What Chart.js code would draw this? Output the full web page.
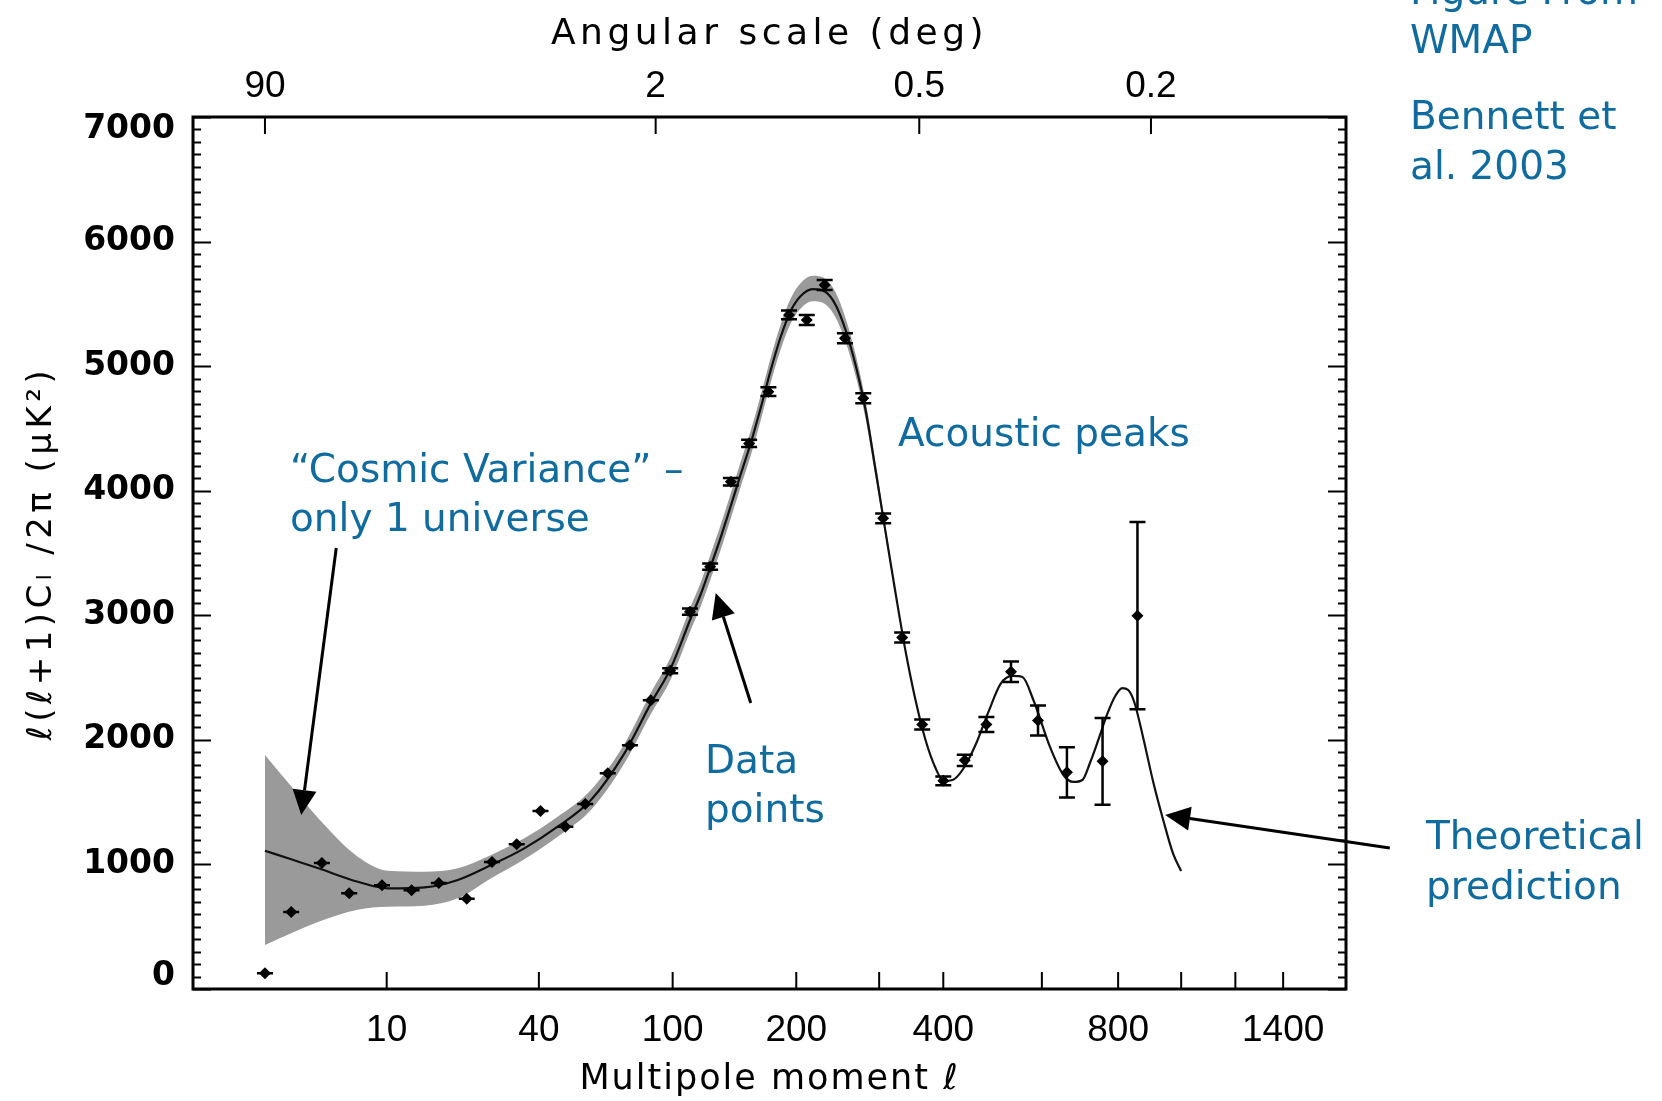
<!DOCTYPE html>
<html><head><meta charset="utf-8">
<script src="https://cdn.jsdelivr.net/npm/chart.js@4/dist/chart.umd.min.js"></script>
<style>html,body{margin:0;padding:0;background:#fff;}canvas{display:block;}</style>
</head><body>
<canvas id="c" width="1662" height="1101"></canvas>
<script>
// ---------- data ----------
const dataL = [2, 3, 4.6, 6.5, 9.5, 13, 17, 22, 27.4, 33.6, 40.5, 48.8, 56.3, 65.8, 76.3, 87.3, 98.5, 111, 125, 140.7, 155.7, 172.8, 192.6, 211, 230.9, 255, 278.4, 305.6, 333.4, 364.7, 400, 438.5, 480, 530.8, 591, 661, 755.6, 857.8];
const dataV = [126, 618, 1011, 768, 832, 792, 851, 725, 1020, 1161, 1429, 1303, 1485, 1731, 1956, 2317, 2555, 3029, 3390, 4072, 4380, 4795, 5411, 5370, 5651, 5224, 4742, 3778, 2822, 2124, 1671, 1836, 2124, 2547, 2155, 1739, 1828, 2997];
const dataErr = [0, 0, 0, 0, 0, 0, 0, 0, 0, 0, 0, 0, 0, 0, 0, 0, 20, 25, 25, 30, 30, 35, 35, 40, 40, 40, 40, 40, 40, 40, 35, 45, 60, 83, 120, 202, 348, 752];

const theoryL = [2, 3, 4.4, 7.2, 10.1, 14.8, 20.3, 27.2, 35.7, 46.1, 58.6, 73.5, 87.3, 98.9, 111.6, 118.4, 125.5, 132.9, 140.6, 148.7, 157.1, 165.8, 175, 184.4, 194.3, 204.6, 217.4, 232, 243.7, 255.8, 268.4, 281.5, 295, 309, 323.5, 338.5, 354, 370.1, 386.7, 400.3, 416.2, 434.2, 458.7, 484.1, 508.5, 533.8, 555.6, 580.3, 620.2, 652, 677.3, 700.7, 722, 743.8, 768.9, 791.7, 812.1, 829.9, 848, 875.7, 907.2, 939.6, 972.8, 1000];
const theoryV = [1110, 1041, 969, 861, 808, 816, 875, 995, 1129, 1303, 1517, 1890, 2293, 2577, 2978, 3171, 3396, 3628, 3877, 4134, 4383, 4664, 4969, 5234, 5443, 5563, 5619, 5595, 5491, 5290, 5009, 4648, 4166, 3669, 3179, 2713, 2320, 1999, 1774, 1670, 1678, 1758, 1959, 2224, 2448, 2513, 2505, 2320, 1935, 1718, 1662, 1678, 1822, 1999, 2208, 2352, 2416, 2400, 2304, 2015, 1662, 1357, 1084, 947];

const bandL = [2, 3, 4.4, 7.2, 10.1, 14.8, 20.3, 27.2, 35.7, 46.1, 58.6, 73.5, 87.3, 98.9, 111.6, 118.4, 125.5, 132.9, 140.6, 148.7, 157.1, 165.8, 175, 184.4, 194.3, 204.6, 217.4, 232, 243.7, 255.8, 268.4, 281.5, 295, 309, 323.5, 338.5];
const bandUpper = [1878, 1627, 1368, 1062, 950, 942, 969, 1076, 1210, 1383, 1598, 1965, 2378, 2667, 3073, 3266, 3496, 3728, 3977, 4234, 4483, 4764, 5069, 5334, 5543, 5668, 5725, 5700, 5591, 5385, 5095, 4720, 4226, 3709, 3199, 2713];
const bandLower = [353, 447, 540, 637, 661, 669, 728, 889, 1041, 1223, 1437, 1810, 2208, 2487, 2883, 3076, 3296, 3528, 3777, 4034, 4283, 4564, 4869, 5134, 5343, 5463, 5520, 5495, 5391, 5195, 4923, 4576, 4106, 3629, 3159, 2713];

// ---------- axes / ticks ----------
const xMinL = 0.5, xMaxL = 1700;
const yMin = 0, yMax = 7000, yMinorStep = 100, yMajorStep = 1000;
const yTickValues = [0, 1000, 2000, 3000, 4000, 5000, 6000, 7000];
const yTickLabels = ['0', '1000', '2000', '3000', '4000', '5000', '6000', '7000'];
const xTickL = [10, 40, 100, 200, 300, 400, 600, 800, 1000, 1200, 1400];
const xTickLabels = ['10', '40', '100', '200', '', '400', '', '800', '', '', '1400'];
const topTickDeg = [90, 2, 0.5, 0.2];
const topTickLabels = ['90', '2', '0.5', '0.2'];

// ---------- annotations ----------
const noteColor = '#106c9f';
const notes = [
  {text: 'Figure From', x: 1410, y: 4},
  {text: 'WMAP', x: 1410, y: 53},
  {text: 'Bennett et', x: 1410, y: 129},
  {text: 'al. 2003', x: 1410, y: 179},
  {text: '\u201CCosmic Variance\u201D \u2013', x: 290, y: 482},
  {text: 'only 1 universe', x: 290, y: 531},
  {text: 'Acoustic peaks', x: 898, y: 446},
  {text: 'Data', x: 705, y: 773},
  {text: 'points', x: 705, y: 822},
  {text: 'Theoretical', x: 1426, y: 849},
  {text: 'prediction', x: 1426, y: 899}
];
const arrowsData = [
  {fromL: 5.54, fromV: 3540, toL: 3.47, toV: 1397},
  {fromL: 157.1, fromV: 2296, toL: 129.1, toV: 3179},
  {fromL: 1936, fromV: 1132, toL: 946, toV: 1397}
];

// ---------- custom l^(1/4) scale ----------
class QuarterPowerScale extends Chart.LinearScale {
  static id = 'power4';
  static defaults = Chart.LinearScale.defaults;
  _t(v) { return Math.pow(v, 0.25); }
  getPixelForValue(value) {
    if (value === null || value === undefined || isNaN(value)) return NaN;
    const a = this._t(this.min), b = this._t(this.max);
    return this.getPixelForDecimal((this._t(value) - a) / (b - a));
  }
  getValueForPixel(pixel) {
    const a = this._t(this.min), b = this._t(this.max);
    return Math.pow(a + this.getDecimalForPixel(pixel) * (b - a), 4);
  }
}
Chart.register(QuarterPowerScale);

const fontX = '"Liberation Sans", Arial, sans-serif';
const fontD = '"DejaVu Sans", sans-serif';

const pts = (xs, ys) => xs.map((l, i) => ({x: l, y: ys[i]}));

function arrow(ctx, x1, y1, x2, y2, head, width) {
  const ang = Math.atan2(y2 - y1, x2 - x1);
  const bx = x2 - head * Math.cos(ang), by = y2 - head * Math.sin(ang);
  ctx.beginPath(); ctx.moveTo(x1, y1); ctx.lineTo(bx, by); ctx.stroke();
  ctx.beginPath(); ctx.moveTo(x2, y2);
  ctx.lineTo(bx + width / 2 * Math.sin(ang), by - width / 2 * Math.cos(ang));
  ctx.lineTo(bx - width / 2 * Math.sin(ang), by + width / 2 * Math.cos(ang));
  ctx.closePath(); ctx.fill();
}

function patchTitle(scale, spacing) {
  if (!scale || scale._spPatched) return;
  const orig = scale.drawTitle;
  scale.drawTitle = function () {
    const c = this.ctx; c.save(); c.letterSpacing = spacing; orig.call(this); c.restore();
  };
  scale._spPatched = true;
}

const cmbPlugin = {
  id: 'cmb',
  afterLayout(chart) {
    patchTitle(chart.scales.y, '4.5px');
    patchTitle(chart.scales.xTop, '4.5px');
    patchTitle(chart.scales.x, '2px');
  },
  afterDatasetsDraw(chart) {
    const {ctx, chartArea: a, scales: {x, y, xTop}} = chart;
    ctx.save();
    // error bars
    ctx.strokeStyle = '#000'; ctx.lineWidth = 2.5;
    dataL.forEach((l, i) => {
      const px = x.getPixelForValue(l);
      const yt = y.getPixelForValue(dataV[i] + dataErr[i]);
      const yb = y.getPixelForValue(dataV[i] - dataErr[i]);
      ctx.beginPath();
      ctx.moveTo(px, yt); ctx.lineTo(px, yb);
      ctx.moveTo(px - 8, yt); ctx.lineTo(px + 8, yt);
      ctx.moveTo(px - 8, yb); ctx.lineTo(px + 8, yb);
      ctx.stroke();
    });
    // inward tick marks
    ctx.lineWidth = 2;
    ctx.beginPath();
    for (let v = yMin; v <= yMax; v += yMinorStep) {
      const py = Math.round(y.getPixelForValue(v)) + 0.5;
      const len = (v % yMajorStep === 0) ? 18 : 8;
      ctx.moveTo(a.left, py); ctx.lineTo(a.left + len, py);
      ctx.moveTo(a.right, py); ctx.lineTo(a.right - len, py);
    }
    xTickL.forEach(l => {
      const px = x.getPixelForValue(l);
      ctx.moveTo(px, a.bottom); ctx.lineTo(px, a.bottom - 17);
    });
    topTickDeg.forEach(d => {
      const px = xTop.getPixelForValue(180 / d);
      ctx.moveTo(px, a.top); ctx.lineTo(px, a.top + 17);
    });
    ctx.stroke();
    // frame
    ctx.lineWidth = 3;
    ctx.strokeRect(a.left, a.top, a.right - a.left, a.bottom - a.top);
    ctx.restore();
  },
  afterDraw(chart) {
    const {ctx, scales: {x, y}} = chart;
    ctx.save();
    ctx.fillStyle = noteColor;
    ctx.font = '39px ' + fontD;
    ctx.textAlign = 'left'; ctx.textBaseline = 'alphabetic';
    notes.forEach(n => ctx.fillText(n.text, n.x, n.y));
    ctx.strokeStyle = '#000'; ctx.fillStyle = '#000'; ctx.lineWidth = 3;
    arrowsData.forEach(ar => {
      arrow(ctx, x.getPixelForValue(ar.fromL), y.getPixelForValue(ar.fromV),
        x.getPixelForValue(ar.toL), y.getPixelForValue(ar.toV), 25, 24);
    });
    ctx.restore();
  }
};

Chart.defaults.color = '#000';

new Chart(document.getElementById('c'), {
  type: 'line',
  data: {
    datasets: [
      {
        label: 'WMAP data', data: pts(dataL, dataV), showLine: false,
        pointStyle: 'rectRot', pointRadius: 6, pointBackgroundColor: '#000',
        pointBorderColor: '#000', pointBorderWidth: 0, order: 0,
        xAxisID: 'x', yAxisID: 'y'
      },
      {
        label: 'Theory', data: pts(theoryL, theoryV), borderColor: '#111',
        borderWidth: 2.2, pointRadius: 0, cubicInterpolationMode: 'monotone',
        fill: false, order: 1, xAxisID: 'x', yAxisID: 'y'
      },
      {
        label: 'Cosmic variance upper', data: pts(bandL, bandUpper), borderWidth: 0,
        borderColor: 'rgba(0,0,0,0)', pointRadius: 0, cubicInterpolationMode: 'monotone',
        fill: false, order: 2, xAxisID: 'x', yAxisID: 'y'
      },
      {
        label: 'Cosmic variance lower', data: pts(bandL, bandLower), borderWidth: 0,
        borderColor: 'rgba(0,0,0,0)', pointRadius: 0, cubicInterpolationMode: 'monotone',
        fill: '-1', backgroundColor: '#9a9a9a', order: 2, xAxisID: 'x', yAxisID: 'y'
      }
    ]
  },
  options: {
    responsive: false,
    animation: false,
    devicePixelRatio: 1,
    layout: {padding: {left: 0, right: 316, top: 0, bottom: 0}},
    plugins: {legend: {display: false}, tooltip: {enabled: false}},
    scales: {
      x: {
        type: 'power4', position: 'bottom', min: xMinL, max: xMaxL, bounds: 'data',
        afterBuildTicks: s => { s.ticks = xTickL.map(v => ({value: v})); },
        afterFit: s => { s.height = 112; },
        grid: {display: false, drawTicks: false}, border: {display: false},
        ticks: {
          autoSkip: false, maxRotation: 0, padding: 20,
          callback: (v, i) => xTickLabels[i],
          font: {family: fontX, size: 37}
        },
        title: {display: true, text: 'Multipole moment \u2113',
          font: {family: fontD, size: 35}, padding: {top: 0, bottom: 0}}
      },
      xTop: {
        type: 'power4', position: 'top', min: xMinL, max: xMaxL, bounds: 'data',
        afterBuildTicks: s => { s.ticks = topTickDeg.map(d => ({value: 180 / d})); },
        afterFit: s => { s.height = 117; },
        grid: {display: false, drawTicks: false}, border: {display: false},
        ticks: {
          autoSkip: false, maxRotation: 0, padding: 8,
          callback: (v, i) => topTickLabels[i],
          font: {family: fontX, size: 37}
        },
        title: {display: true, text: 'Angular scale (deg)',
          font: {family: fontD, size: 36}, padding: {top: 13, bottom: 0}}
      },
      y: {
        type: 'linear', position: 'left', min: yMin, max: yMax,
        afterBuildTicks: s => { s.ticks = yTickValues.map(v => ({value: v})); },
        afterFit: s => { s.width = 193; },
        grid: {display: false, drawTicks: false}, border: {display: false},
        ticks: {
          autoSkip: false, padding: 18,
          callback: (v, i) => {
            const t = yTickLabels[i];
            if (i === 0) return [t, ''];
            if (i === yTickLabels.length - 1) return ['', t];
            return t;
          },
          font: {family: fontD, size: 33, weight: 'bold', lineHeight: '25px'}
        },
        title: {display: true, text: '\u2113(\u2113+1)C\u2097 /2\u03C0 (\u03BCK\u00B2)',
          font: {family: fontD, size: 34}, padding: {top: 22, bottom: 0}}
      }
    }
  },
  plugins: [cmbPlugin]
});
</script>
</body></html>
